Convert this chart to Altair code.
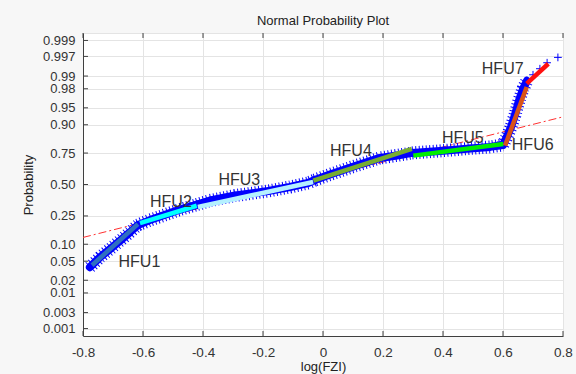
import altair as alt
import pandas as pd
from statistics import NormalDist

nd = NormalDist()

# ---- data: (log(FZI), probability) along each HFU band ----
hfu1_x = [-0.777, -0.743, -0.710, -0.677, -0.643, -0.617]
hfu1_p = [0.0380, 0.0595, 0.0827, 0.1134, 0.1534, 0.1919]
hfu2_x = [-0.617, -0.577, -0.543, -0.510, -0.477, -0.443, -0.420]
hfu2_p = [0.1919, 0.2227, 0.2457, 0.2700, 0.2953, 0.3180, 0.3336]
hfu3_x = [-0.420, -0.377, -0.293, -0.183, -0.110, -0.050, -0.027]
hfu3_p = [0.3336, 0.3654, 0.4064, 0.4443, 0.4785, 0.5128, 0.5386]
hfu4_x = [-0.027, 0.023, 0.107, 0.190, 0.257, 0.297]
hfu4_p = [0.5386, 0.5850, 0.6547, 0.7157, 0.7370, 0.7510]
hfu5_x = [0.297, 0.390, 0.490, 0.557, 0.600]
hfu5_p = [0.7510, 0.7643, 0.7806, 0.7900, 0.8020]
hfu6_x = [0.600, 0.613, 0.627, 0.640, 0.653, 0.667, 0.680]
hfu6_p = [0.8020, 0.8466, 0.8920, 0.9325, 0.9637, 0.9800, 0.9870]
hfu7_x = [0.680, 0.700, 0.723, 0.747, 0.783]
hfu7_p = [0.9870, 0.9907, 0.9935, 0.9955, 0.9968]

# fitted line of each HFU (start / end)
fit_names = ["HFU1", "HFU2", "HFU3", "HFU4", "HFU5", "HFU6", "HFU7"]
fit_x0 = [-0.770, -0.610, -0.417, -0.032, 0.301, 0.607, 0.679]
fit_p0 = [0.0417, 0.2038, 0.3142, 0.5326, 0.7321, 0.7980, 0.9847]
fit_x1 = [-0.617, -0.421, -0.033, 0.296, 0.601, 0.679, 0.751]
fit_p1 = [0.1977, 0.3242, 0.5215, 0.7774, 0.8081, 0.9817, 0.9952]
fit_colors = ["#2F6FC0", "#00FFFF", "#B4F0FF", "#77AC30", "#00EE00", "#D95319", "#FF1010"]

# reference line
ref_x = [-0.8, 0.8]
ref_p = [0.128, 0.9267]

# labels
label_text = ["HFU1", "HFU2", "HFU3", "HFU4", "HFU5", "HFU6", "HFU7"]
label_x = [-0.612, -0.507, -0.279, 0.093, 0.466, 0.699, 0.599]
label_p = [0.0489, 0.3572, 0.5402, 0.7611, 0.8403, 0.8034, 0.9932]

# axes
x_ticks = [-0.8, -0.6, -0.4, -0.2, 0.0, 0.2, 0.4, 0.6, 0.8]
y_ticks = [0.001, 0.003, 0.01, 0.02, 0.05, 0.10, 0.25, 0.50, 0.75, 0.90, 0.95, 0.98, 0.99, 0.997, 0.999]
y_tick_labels = ["0.001", "0.003", "0.01", "0.02", "0.05", "0.10", "0.25", "0.50",
                 "0.75", "0.90", "0.95", "0.98", "0.99", "0.997", "0.999"]

# ---- tables ----
def q(p):
    return nd.inv_cdf(p)

rows = []
for name, xs, ps in [("HFU1", hfu1_x, hfu1_p), ("HFU2", hfu2_x, hfu2_p), ("HFU3", hfu3_x, hfu3_p),
                     ("HFU4", hfu4_x, hfu4_p), ("HFU5", hfu5_x, hfu5_p), ("HFU6", hfu6_x, hfu6_p),
                     ("HFU7", hfu7_x, hfu7_p)]:
    for i, (xv, pv) in enumerate(zip(xs, ps)):
        rows.append({"hfu": name, "i": i, "x": xv, "z": q(pv)})
pts = pd.DataFrame(rows)
band = pts[pts["hfu"] != "HFU7"]

fit = pd.DataFrame({"hfu": fit_names, "x": fit_x0, "z": [q(p) for p in fit_p0],
                    "x2": fit_x1, "z2": [q(p) for p in fit_p1]})
ref = pd.DataFrame({"x": ref_x, "z": [q(p) for p in ref_p]})
labels = pd.DataFrame({"t": label_text, "x": label_x, "z": [q(p) for p in label_p]})
z_ticks = [q(p) for p in y_ticks]
xt = pd.DataFrame({"x": x_ticks})
yt = pd.DataFrame({"z": z_ticks})

parts = [f"abs(datum.value - ({z:.6f})) < 0.0005 ? '{lab}'" for z, lab in zip(z_ticks, y_tick_labels)]
label_expr = " : ".join(parts) + " : ''"
x_label_expr = "datum.value < 0 ? '-' + format(-datum.value, '.1f') : format(datum.value, '.1~f')"

FONT = "Liberation Sans"
W, H = 480, 303

xscale = alt.Scale(domain=[-0.8, 0.8], nice=False, zero=False)
yscale = alt.Scale(domain=[-3.25, 3.25], nice=False, zero=False)

xaxis = alt.Axis(values=x_ticks, labelExpr=x_label_expr, grid=True, gridColor="#e4e4e4",
                 ticks=False, domainColor="#404040", labelFontSize=13.5, labelColor="#333333",
                 labelPadding=9, labelFont=FONT, title="log(FZI)", titleFont=FONT,
                 titleFontSize=13, titleFontWeight="normal", titleColor="#222222",
                 titlePadding=2, labelFlush=False, labelOverlap=False)
yaxis = alt.Axis(values=z_ticks, labelExpr=label_expr, grid=True, gridColor="#e4e4e4",
                 ticks=False, domainColor="#404040", labelFontSize=13,
                 labelColor="#333333", labelPadding=8, labelFont=FONT, labelOverlap=False,
                 labelBound=False, labelSeparation=0,
                 title="Probability", titleFont=FONT, titleFontSize=13,
                 titleFontWeight="normal", titleColor="#222222", titlePadding=7)

X = alt.X("x:Q", scale=xscale, axis=xaxis)
Y = alt.Y("z:Q", scale=yscale, axis=yaxis)

base_ref = alt.Chart(ref).mark_line(color="#ff3030", strokeWidth=1,
                                    strokeDash=[8, 3, 2, 3]).encode(x=X, y=Y)

band_line = alt.Chart(band).mark_line(color="#0000ff", strokeWidth=8,
                                      strokeCap="round", strokeJoin="round").encode(
    x=X, y=Y, detail="hfu:N", order="i:Q")

band_comb = alt.Chart(band).mark_line(color="#0000ff", strokeWidth=13,
                                      strokeDash=[1, 2.5]).encode(
    x=X, y=Y, detail="hfu:N", order="i:Q")

crosses = alt.Chart(pts).mark_point(shape="M-1,0L1,0M0,-1L0,1", filled=False,
                                    color="#0000ff", strokeWidth=1, size=60,
                                    opacity=1).encode(x=X, y=Y)

fit_lines = alt.Chart(fit).mark_rule(strokeWidth=4.5, strokeCap="butt").encode(
    x=X, x2="x2:Q", y=Y, y2="z2:Q",
    color=alt.Color("hfu:N", scale=alt.Scale(domain=fit_names, range=fit_colors), legend=None))

text = alt.Chart(labels).mark_text(font=FONT, fontSize=16, color="#333333",
                                   align="center", baseline="middle").encode(
    x=X, y=Y, text="t:N")

tick_col = "#404040"
xt_bot = alt.Chart(xt).mark_rule(color=tick_col, strokeWidth=1).encode(
    x=X, y=alt.value(H), y2=alt.value(H - 5))
xt_top = alt.Chart(xt).mark_rule(color=tick_col, strokeWidth=1).encode(
    x=X, y=alt.value(0), y2=alt.value(5))
yt_left = alt.Chart(yt).mark_rule(color=tick_col, strokeWidth=1).encode(
    y=Y, x=alt.value(0), x2=alt.value(5))

chart = alt.layer(base_ref, band_line, band_comb, crosses, fit_lines, text,
                  xt_bot, xt_top, yt_left).properties(
    width=W, height=H,
    title=alt.TitleParams("Normal Probability Plot", anchor="middle", font=FONT,
                          fontSize=13, fontWeight="normal", color="#222222", offset=5),
    autosize=alt.AutoSizeParams(type="none"),
    padding={"left": 83, "top": 33, "right": 13, "bottom": 38},
    background="#f7f7f7",
).configure_view(fill="white", stroke="#e4e4e4").configure_axis(labelOverlap=False)

chart.save("out.html", embed_options={"renderer": "svg", "actions": False})
